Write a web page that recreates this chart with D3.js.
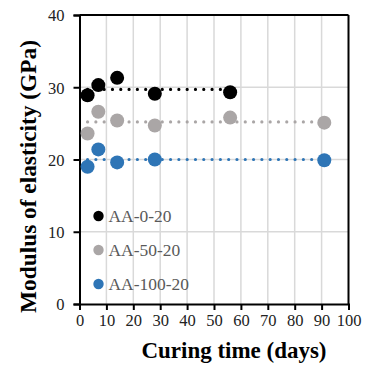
<!DOCTYPE html>
<html><head><meta charset="utf-8">
<script src="https://cdn.jsdelivr.net/npm/d3@7"></script>
<style>html,body{margin:0;padding:0;background:#fff;}
svg text{font-family:"Liberation Serif","Times New Roman",serif;}</style>
</head><body>
<svg id="chart" width="367" height="367"></svg>
<script>
const seriesNames = ["AA-0-20", "AA-50-20", "AA-100-20"];
const days0 = [3, 7, 14, 28, 56];
const vals0 = [28.9, 30.3, 31.3, 29.1, 29.3];
const days50 = [3, 7, 14, 28, 56, 91];
const vals50 = [23.6, 26.6, 25.4, 24.7, 25.8, 25.1];
const days100 = [3, 7, 14, 28, 91];
const vals100 = [19.0, 21.4, 19.6, 20.0, 19.9];
const meanVals = [29.7, 25.2, 20.0];
const xTicks = [0,10,20,30,40,50,60,70,80,90,100];
const yTicks = [0,10,20,30,40];
const colors = ["#000000", "#aaa6a6", "#2e75b6"];

const series = [
  {name: seriesNames[0], days: days0, vals: vals0, mean: meanVals[0], color: colors[0]},
  {name: seriesNames[1], days: days50, vals: vals50, mean: meanVals[1], color: colors[1]},
  {name: seriesNames[2], days: days100, vals: vals100, mean: meanVals[2], color: colors[2]}
];

const svg = d3.select("#chart");
const L = 79.5, R = 348.5, T = 15, B = 304;
const x = d3.scaleLinear().domain([0, 100]).range([L, R]);
const y = d3.scaleLinear().domain([0, 40]).range([B, T]);
const font = "'Liberation Serif','Times New Roman',serif";

function fit(sel, target) {
  const n = sel.node();
  const fs = parseFloat(sel.attr("font-size"));
  const w = n.getComputedTextLength();
  if (w > 0) sel.attr("font-size", (fs * target / w).toFixed(2));
  return sel;
}

// gridlines
svg.append("g").selectAll("line").data(xTicks.slice(1, -1)).join("line")
  .attr("x1", d => x(d)).attr("x2", d => x(d)).attr("y1", T).attr("y2", B)
  .attr("stroke", "#d9d9d9").attr("stroke-width", 1.5);
svg.append("g").selectAll("line").data(yTicks.slice(1, -1)).join("line")
  .attr("x1", L).attr("x2", R).attr("y1", d => y(d)).attr("y2", d => y(d))
  .attr("stroke", "#d9d9d9").attr("stroke-width", 1.5);

// frame top & right
svg.append("line").attr("x1", L).attr("x2", R).attr("y1", T).attr("y2", T)
  .attr("stroke", "#000").attr("stroke-width", 2);
svg.append("line").attr("x1", R).attr("x2", R).attr("y1", T).attr("y2", B)
  .attr("stroke", "#000").attr("stroke-width", 2);

// axes
const xAxis = svg.append("g").attr("transform", `translate(0,${B})`)
  .call(d3.axisBottom(x).tickValues(xTicks).tickSize(6).tickPadding(8).tickFormat(d3.format("d")));
const yAxis = svg.append("g").attr("transform", `translate(${L},0)`)
  .call(d3.axisLeft(y).tickValues(yTicks).tickSize(6).tickPadding(9).tickFormat(d3.format("d")));
[xAxis, yAxis].forEach(a => {
  a.attr("font-family", font).attr("font-size", 16.5);
  a.select(".domain").attr("stroke", "#000").attr("stroke-width", 2);
  a.selectAll(".tick line").attr("stroke", "#000").attr("stroke-width", 2);
  a.selectAll("text").attr("font-family", font).attr("font-size", 16.5).attr("fill", "#222");
});
xAxis.selectAll("text").attr("dy", "0.5em");
yAxis.selectAll("text").attr("dy", "0.35em");

// mean dotted lines
series.forEach(s => {
  svg.append("line")
    .attr("x1", x(d3.min(s.days))).attr("x2", x(d3.max(s.days)))
    .attr("y1", y(s.mean)).attr("y2", y(s.mean))
    .attr("stroke", s.color).attr("stroke-width", 3.2)
    .attr("stroke-linecap", "round").attr("stroke-dasharray", "0 8.3");
});

// points
series.forEach(s => {
  svg.append("g").selectAll("circle").data(s.days.map((d, i) => [d, s.vals[i]])).join("circle")
    .attr("cx", d => x(d[0])).attr("cy", d => y(d[1])).attr("r", 7)
    .attr("fill", s.color);
});

// legend
const legY = [216, 250, 284];
series.forEach((s, i) => {
  svg.append("circle").attr("cx", 98.5).attr("cy", legY[i]).attr("r", 5.2).attr("fill", s.color);
  const t = svg.append("text").attr("x", 108.5).attr("y", legY[i]).attr("dy", "0.35em")
    .attr("font-family", font).attr("font-size", 17).attr("fill", "#595959").text(s.name);
  if (i === 0) fit(t, 63);
});
const legFs = svg.selectAll("text").filter(function(){return d3.select(this).text()===seriesNames[0];}).attr("font-size");
svg.selectAll("text").filter(function(){return seriesNames.includes(d3.select(this).text());}).attr("font-size", legFs);

// axis titles
const xt = svg.append("text").attr("x", 234).attr("y", 358).attr("text-anchor", "middle")
  .attr("font-family", font).attr("font-weight", "bold").attr("font-size", 20).attr("fill", "#000")
  .text("Curing time (days)");
fit(xt, 185);
const yt = svg.append("text").attr("transform", "translate(36,176.5) rotate(-90)").attr("text-anchor", "middle")
  .attr("font-family", font).attr("font-weight", "bold").attr("font-size", 20).attr("fill", "#000")
  .text("Modulus of elasticity (GPa)");
fit(yt, 273);
</script>
</body></html>
